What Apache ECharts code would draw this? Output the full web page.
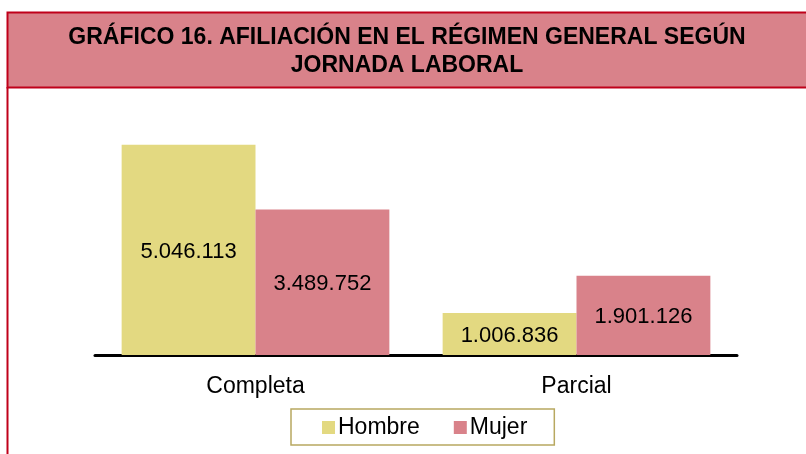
<!DOCTYPE html>
<html>
<head>
<meta charset="utf-8">
<script src="https://cdn.jsdelivr.net/npm/echarts@6/dist/echarts.min.js"></script>
<style>
  html, body { margin: 0; padding: 0; background: #fff; }
  #chart { width: 806px; height: 454px; }
</style>
</head>
<body>
<div id="chart"></div>
<script>
// datos del gráfico
const categorias = ['Completa', 'Parcial'];
const hombre = [5046113, 1006836];
const mujer = [3489752, 1901126];
const series = ['Hombre', 'Mujer'];

const FONT = "'Liberation Sans', Arial, sans-serif";
const fmt = v => String(v).replace(/\B(?=(\d{3})+(?!\d))/g, '.');

const chart = echarts.init(document.getElementById('chart'));

const labelCfg = {
  show: true,
  position: 'inside',
  color: '#000',
  fontSize: 22,
  fontFamily: FONT,
  offset: [0, 2],
  formatter: p => fmt(p.value)
};

chart.setOption({
  animation: false,
  graphic: [
    {
      type: 'rect',
      shape: {x: 7.5, y: 12.5, width: 810, height: 75},
      style: {fill: '#d9828a', stroke: '#c0001a', lineWidth: 2}
    },
    {
      type: 'line',
      shape: {x1: 7.5, y1: 87, x2: 7.5, y2: 460},
      style: {stroke: '#c0001a', lineWidth: 2}
    },
    {
      type: 'text',
      x: 407,
      y: 24,
      style: {
        text: 'GRÁFICO 16. AFILIACIÓN EN EL RÉGIMEN GENERAL SEGÚN\nJORNADA LABORAL',
        fontFamily: FONT,
        fontWeight: 'bold',
        fontSize: 23,
        lineHeight: 28,
        fill: '#000',
        align: 'center',
        verticalAlign: 'top'
      }
    }
  ],
  legend: {
    data: series,
    left: 291,
    top: 409,
    borderColor: '#b8a860',
    borderWidth: 1.5,
    padding: [7, 27, 6, 31],
    itemWidth: 13,
    itemHeight: 13,
    itemGap: 34,
    icon: 'rect',
    textStyle: {fontSize: 23, color: '#000', fontFamily: FONT, padding: [0, 0, 0, -2]}
  },
  grid: {left: 95, right: 69, top: 105, bottom: 99},
  xAxis: {
    type: 'category',
    data: categorias,
    axisLine: {lineStyle: {color: '#000', width: 3}},
    axisTick: {show: false},
    axisLabel: {fontSize: 23, color: '#000', fontFamily: FONT, margin: 20}
  },
  yAxis: {
    type: 'value',
    min: 0,
    max: 6000000,
    show: false,
    splitLine: {show: false}
  },
  series: [
    {
      name: series[0],
      type: 'bar',
      data: hombre,
      barWidth: '41.7%',
      barGap: '0%',
      itemStyle: {color: '#e3d981'},
      label: labelCfg
    },
    {
      name: series[1],
      type: 'bar',
      data: mujer,
      barWidth: '41.7%',
      itemStyle: {color: '#d9828a'},
      label: labelCfg
    }
  ]
});
</script>
</body>
</html>
